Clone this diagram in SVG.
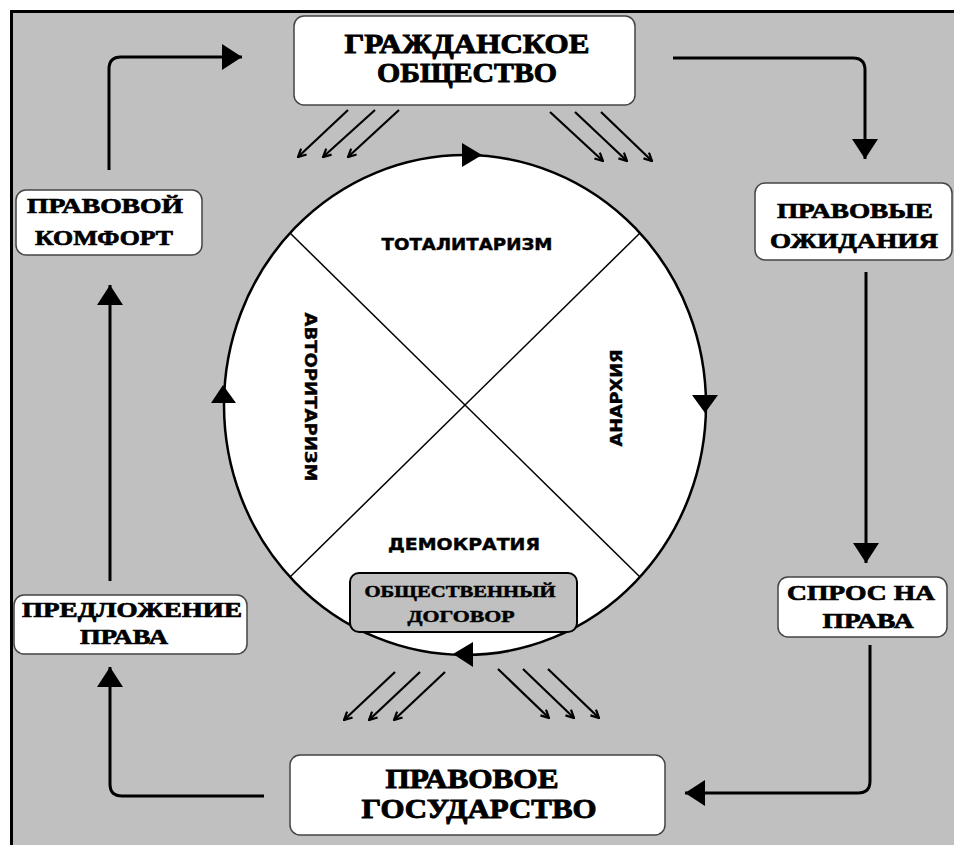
<svg xmlns="http://www.w3.org/2000/svg" width="954" height="845" viewBox="0 0 954 845">
<style>
.box{fill:#fff;stroke:#444;stroke-width:1.5}
.big{font-family:"Liberation Serif",serif;font-weight:bold;font-size:27px;fill:#000;stroke:#000;stroke-width:0.9;text-anchor:middle}
.mid{font-family:"Liberation Serif",serif;font-weight:bold;font-size:21px;fill:#000;stroke:#000;stroke-width:0.7;text-anchor:middle}
.sm{font-family:"Liberation Serif",serif;font-weight:bold;font-size:16px;fill:#000;stroke:#000;stroke-width:0.5;text-anchor:middle}
.in{font-family:"DejaVu Sans",sans-serif;font-weight:bold;font-size:15px;fill:#000;stroke:#000;stroke-width:0.4;text-anchor:middle}
.conn{fill:none;stroke:#000;stroke-width:3;stroke-linejoin:round}
.thin{fill:none;stroke:#000;stroke-width:2.2}
.head{fill:#000}
</style>
<defs>
<marker id="bigArrow" viewBox="0 0 20 26" refX="20" refY="13" markerWidth="20" markerHeight="26" markerUnits="userSpaceOnUse" orient="auto">
<path d="M0,0 L20,13 L0,26 Z" fill="#000"/>
</marker>
<marker id="smallArrow" viewBox="0 0 10 10" refX="9" refY="5" markerWidth="10" markerHeight="10" markerUnits="userSpaceOnUse" orient="auto">
<path d="M1,1 L9,5 L1,9" fill="none" stroke="#000" stroke-width="2.2"/>
</marker>
</defs>
<rect x="0" y="0" width="954" height="845" fill="#fff"/>
<rect x="11.5" y="11.5" width="960" height="860" fill="#c0c0c0" stroke="#000" stroke-width="3"/>

<g id="connectors">
<path class="conn" d="M109,170 V69 Q109,57 121,57 H242" marker-end="url(#bigArrow)"/>
<path class="conn" d="M673,58 H853 Q865,58 865,70 V159" marker-end="url(#bigArrow)"/>
<path class="conn" d="M866,272 V563" marker-end="url(#bigArrow)"/>
<path class="conn" d="M870,645 V781 Q870,793 858,793 H685" marker-end="url(#bigArrow)"/>
<path class="conn" d="M264,796 H122 Q110,796 110,784 V667" marker-end="url(#bigArrow)"/>
<path class="conn" d="M110,581 V285" marker-end="url(#bigArrow)"/>
<g class="thin" marker-end="url(#smallArrow)">
<path d="M348,110 L298,157"/><path d="M375,110 L323,157"/><path d="M399,110 L348,157"/>
<path d="M550,112 L603,161"/><path d="M575,112 L627,161"/><path d="M601,112 L652,161"/>
<path d="M395,672 L344,720"/><path d="M420,672 L369,720"/><path d="M445,672 L394,720"/>
<path d="M498,669 L549,718"/><path d="M523,669 L574,718"/><path d="M548,669 L599,718"/>
</g>
</g>

<g id="cycle">
<ellipse cx="465" cy="405" rx="241" ry="250" fill="#fff" stroke="#000" stroke-width="2.5"/>
<line x1="290" y1="233" x2="640" y2="577" stroke="#000" stroke-width="1.5"/>
<line x1="640" y1="233" x2="290" y2="577" stroke="#000" stroke-width="1.5"/>
<polygon class="head" points="482,155 462,143 462,167"/>
<polygon class="head" points="705,413 692,395 718,395"/>
<polygon class="head" points="453,654 473,642 473,667"/>
<polygon class="head" points="223,385 211,403 236,403"/>
<text class="in" x="467" y="250" textLength="171" lengthAdjust="spacingAndGlyphs">ТОТАЛИТАРИЗМ</text>
<text class="in" x="464" y="550" textLength="152" lengthAdjust="spacingAndGlyphs">ДЕМОКРАТИЯ</text>
<text class="in" transform="translate(305,397) rotate(90)" x="0" y="0" textLength="169" lengthAdjust="spacingAndGlyphs">АВТОРИТАРИЗМ</text>
<text class="in" transform="translate(622,398) rotate(-90)" x="0" y="0" textLength="97" lengthAdjust="spacingAndGlyphs">АНАРХИЯ</text>
</g>

<g id="social-contract">
<rect x="350" y="573" width="227" height="59" rx="9" fill="#c0c0c0" stroke="#000" stroke-width="2"/>
<text class="sm" x="460" y="597" textLength="191" lengthAdjust="spacingAndGlyphs">ОБЩЕСТВЕННЫЙ</text>
<text class="sm" x="461" y="622" textLength="107" lengthAdjust="spacingAndGlyphs">ДОГОВОР</text>
</g>

<g id="civil-society">
<rect class="box" x="294" y="16" width="341" height="89" rx="10"/>
<text class="big" x="467" y="53" textLength="245" lengthAdjust="spacingAndGlyphs">ГРАЖДАНСКОЕ</text>
<text class="big" x="467" y="82" textLength="180" lengthAdjust="spacingAndGlyphs">ОБЩЕСТВО</text>
</g>

<g id="legal-expectations">
<rect class="box" x="755" y="183" width="197" height="77" rx="10"/>
<text class="mid" x="855" y="218" textLength="156" lengthAdjust="spacingAndGlyphs">ПРАВОВЫЕ</text>
<text class="mid" x="854" y="248" textLength="168" lengthAdjust="spacingAndGlyphs">ОЖИДАНИЯ</text>
</g>

<g id="demand-for-rights">
<rect class="box" x="778" y="577" width="169" height="60" rx="10"/>
<text class="mid" x="861" y="600" textLength="148" lengthAdjust="spacingAndGlyphs">СПРОС НА</text>
<text class="mid" x="868" y="628" textLength="91" lengthAdjust="spacingAndGlyphs">ПРАВА</text>
</g>

<g id="rule-of-law-state">
<rect class="box" x="290" y="755" width="375" height="80" rx="10"/>
<text class="big" x="472" y="788" textLength="173" lengthAdjust="spacingAndGlyphs">ПРАВОВОЕ</text>
<text class="big" x="479" y="818" textLength="235" lengthAdjust="spacingAndGlyphs">ГОСУДАРСТВО</text>
</g>

<g id="supply-of-law">
<rect class="box" x="14" y="595" width="233" height="59" rx="10"/>
<text class="mid" x="132" y="617" textLength="220" lengthAdjust="spacingAndGlyphs">ПРЕДЛОЖЕНИЕ</text>
<text class="mid" x="124" y="644" textLength="88" lengthAdjust="spacingAndGlyphs">ПРАВА</text>
</g>

<g id="legal-comfort">
<rect class="box" x="16" y="190" width="186" height="65" rx="10"/>
<text class="mid" x="105" y="213" textLength="156" lengthAdjust="spacingAndGlyphs">ПРАВОВОЙ</text>
<text class="mid" x="104" y="245" textLength="138" lengthAdjust="spacingAndGlyphs">КОМФОРТ</text>
</g>
</svg>
